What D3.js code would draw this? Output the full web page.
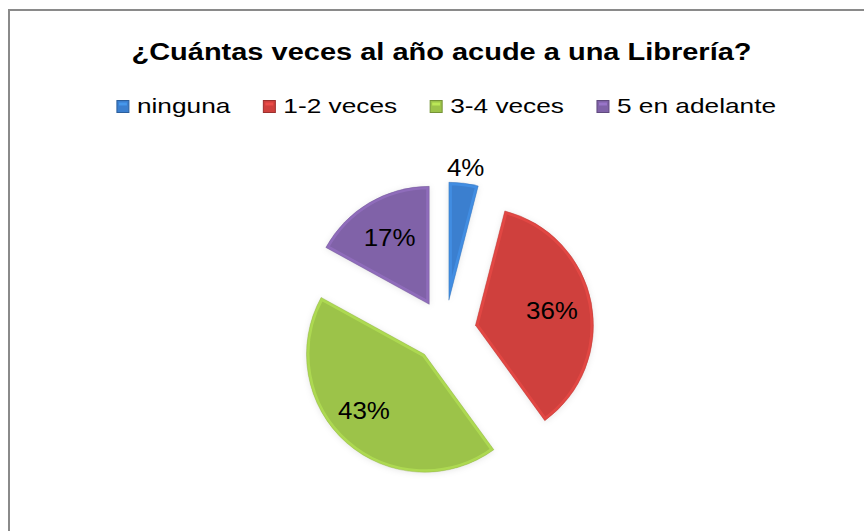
<!DOCTYPE html>
<html>
<head>
<meta charset="utf-8">
<script src="https://cdn.jsdelivr.net/npm/d3@7"></script>
<style>
  body { margin: 0; background: #fff; }
  text { font-family: "Liberation Sans", Arial, sans-serif; }
</style>
</head>
<body>
<div id="chart"></div>
<script>
// Chart data
const title = "¿Cuántas veces al año acude a una Librería?";
const categories = ["ninguna", "1-2 veces", "3-4 veces", "5 en adelante"];
const values = [4, 36, 43, 17];
const colors = ["#3b7fcf", "#cf403d", "#9cc349", "#8062a8"];

const width = 864, height = 531;

const svg = d3.select("#chart")
  .append("svg")
  .attr("width", width)
  .attr("height", height);

const defs = svg.append("defs");

// soft shadow round the slices
const shadow = defs.append("filter")
  .attr("id", "shadow")
  .attr("x", "-20%").attr("y", "-20%")
  .attr("width", "140%").attr("height", "140%");
shadow.append("feDropShadow")
  .attr("dx", 0).attr("dy", 1)
  .attr("stdDeviation", 3)
  .attr("flood-color", "#000")
  .attr("flood-opacity", 0.1);

// chart frame (only top and left edges fall inside the picture)
svg.append("rect")
  .attr("x", 9).attr("y", 10)
  .attr("width", 1000).attr("height", 1000)
  .attr("fill", "none")
  .attr("stroke", "#8a8a8a")
  .attr("stroke-width", 2);

// stretch text horizontally like the source image
function stretch(sel, factor) {
  sel.each(function () {
    const len = this.getComputedTextLength();
    d3.select(this)
      .attr("textLength", len * factor)
      .attr("lengthAdjust", "spacingAndGlyphs");
  });
}

// Title
svg.append("text")
  .attr("x", 441.5)
  .attr("y", 60)
  .attr("text-anchor", "middle")
  .attr("font-size", "23px")
  .attr("font-weight", "bold")
  .attr("fill", "#000")
  .text(title)
  .call(stretch, 1.26);

// Legend
const legend = svg.append("g");
const markerSize = 12, markerGap = 8, itemGap = 33;
let lx = 0;
categories.forEach((c, i) => {
  const item = legend.append("g").attr("transform", `translate(${lx},0)`);
  item.append("rect")
    .attr("x", 0).attr("y", -12.5)
    .attr("width", markerSize).attr("height", markerSize)
    .attr("fill", colors[i])
    .attr("stroke", d3.color(colors[i]).darker(0.8))
    .attr("stroke-width", 1);
  item.append("rect")
    .attr("x", 2).attr("y", -10.5)
    .attr("width", markerSize - 4).attr("height", 3)
    .attr("fill", d3.color(colors[i]).brighter(0.8))
    .attr("opacity", 0.6);
  const t = item.append("text")
    .attr("x", markerSize + markerGap)
    .attr("y", 0)
    .attr("font-size", "21px")
    .attr("fill", "#000")
    .text(c)
    .call(stretch, 1.25);
  lx += markerSize + markerGap + t.node().textLength.baseVal.value + itemGap;
});
lx -= itemGap;
legend.attr("transform", `translate(${446.5 - lx / 2},113)`);

// Pie
const cx = 445, cy = 331, radius = 118, explode = 31;

const pie = d3.pie().sort(null).value(d => d)
  .startAngle(0).endAngle(2 * Math.PI);
const arcs = pie(values);

const arc = d3.arc().innerRadius(0).outerRadius(radius);

const g = svg.append("g").attr("transform", `translate(${cx},${cy})`);

const slices = g.selectAll(".slice")
  .data(arcs)
  .enter()
  .append("g")
  .attr("class", "slice")
  .attr("transform", d => {
    const mid = (d.startAngle + d.endAngle) / 2;
    return `translate(${explode * Math.sin(mid)},${-explode * Math.cos(mid)})`;
  });

slices.append("path")
  .attr("d", arc)
  .attr("fill", (d, i) => colors[i])
  .attr("filter", "url(#shadow)");

// bevel: light rim and softer inner edge
slices.each(function (d, i) {
  const s = d3.select(this);
  const clipId = "clip" + i;
  defs.append("clipPath").attr("id", clipId)
    .append("path").attr("d", arc(d));
  s.append("path")
    .attr("d", arc(d))
    .attr("fill", "none")
    .attr("stroke", d3.color(colors[i]).brighter(0.7))
    .attr("stroke-width", 6)
    .attr("stroke-opacity", 0.4)
    .attr("stroke-linejoin", "round")
    .attr("clip-path", `url(#${clipId})`);
  s.append("path")
    .attr("d", arc(d))
    .attr("fill", "none")
    .attr("stroke", d3.color(colors[i]).darker(0.5))
    .attr("stroke-width", 1)
    .attr("stroke-opacity", 0.35);
});

// Data labels
const total = d3.sum(values);
slices.append("text")
  .attr("transform", d => {
    const share = d.value / total;
    const big = share > 0.4;
    const lr = share < 0.1 ? radius * 1.13 : radius * (big ? 0.7 : 0.66);
    const mid = (d.startAngle + d.endAngle) / 2 + (big ? 0.1 : 0);
    return `translate(${lr * Math.sin(mid)},${-lr * Math.cos(mid)})`;
  })
  .attr("dy", "0.35em")
  .attr("text-anchor", "middle")
  .attr("font-size", "24px")
  .attr("fill", "#000")
  .text(d => Math.round(d.value / total * 100) + "%")
  .call(stretch, 1.08);
</script>
</body>
</html>
